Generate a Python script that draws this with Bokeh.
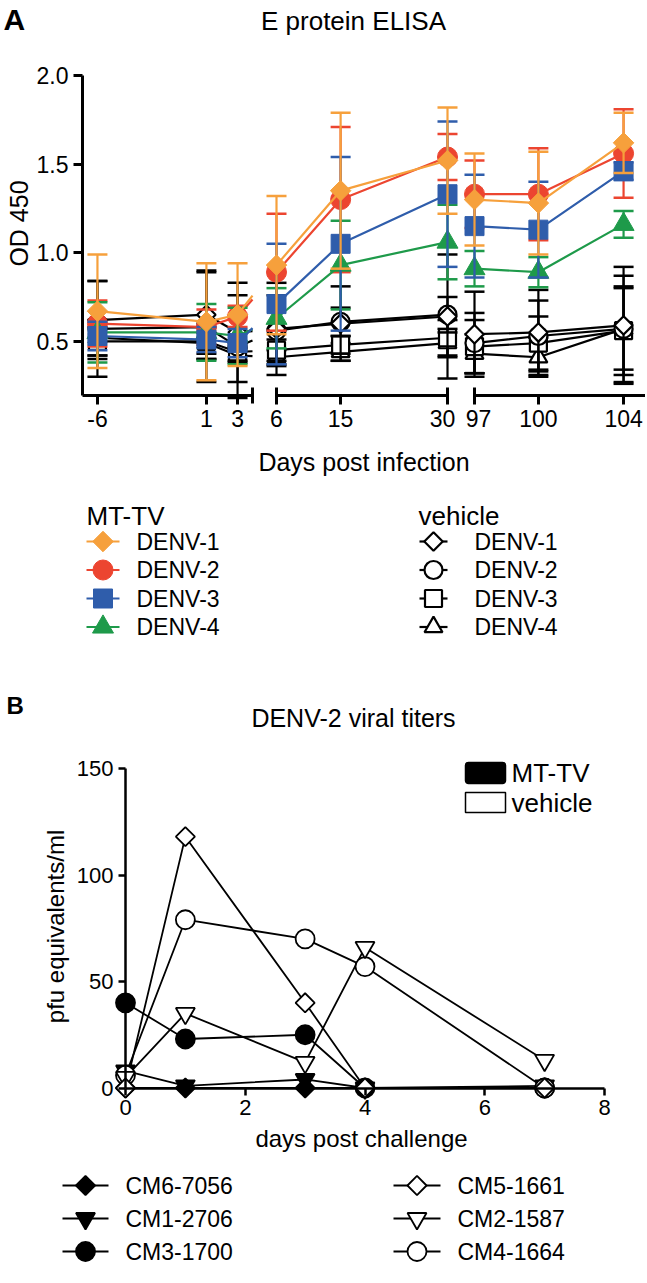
import math
from bokeh.plotting import figure
from bokeh.models import (Range1d, LinearAxis, FixedTicker, Label,
                          ColumnDataSource, NumeralTickFormatter)
from bokeh.embed import file_html
from bokeh.resources import INLINE

FONT = "Liberation Sans"

# ---------------- Panel A data (E protein ELISA, OD 450) ----------------
days_a = [-6, 1, 3, 6, 15, 30, 97, 100, 104]
serotypes = ["DENV-1", "DENV-2", "DENV-3", "DENV-4"]

mt_denv1 = [0.67, 0.61, 0.65, 0.93, 1.35, 1.52, 1.30, 1.28, 1.62]
mt_denv1_err = [0.32, 0.33, 0.29, 0.39, 0.44, 0.30, 0.26, 0.29, 0.17]
mt_denv2 = [0.60, 0.58, 0.64, 0.89, 1.30, 1.54, 1.33, 1.33, 1.56]
mt_denv2_err = [0.13, 0.10, 0.06, 0.33, 0.41, 0.13, 0.19, 0.26, 0.25]
mt_denv3 = [0.53, 0.51, 0.49, 0.71, 1.05, 1.33, 1.15, 1.13, 1.46]
mt_denv3_err = [0.08, 0.07, 0.08, 0.34, 0.49, 0.41, 0.29, 0.27, 0.05]
mt_denv4 = [0.55, 0.55, 0.53, 0.63, 0.93, 1.06, 0.91, 0.89, 1.16]
mt_denv4_err = [0.17, 0.16, 0.16, 0.17, 0.25, 0.21, 0.10, 0.085, 0.075]

veh_denv1 = [0.62, 0.65, 0.55, 0.57, 0.60, 0.64, 0.54, 0.55, 0.59]
veh_denv1_err = [0.22, 0.25, 0.28, 0.26, 0.21, 0.35, 0.24, 0.24, 0.33]
veh_denv2 = [0.57, 0.58, 0.47, 0.56, 0.61, 0.65, 0.49, 0.53, 0.57]
veh_denv2_err = [0.27, 0.31, 0.29, 0.20, 0.08, 0.10, 0.17, 0.20, 0.30]
veh_denv3 = [0.50, 0.50, 0.44, 0.45, 0.48, 0.52, 0.47, 0.49, 0.56]
veh_denv3_err = [0.08, 0.10, 0.05, 0.06, 0.05, 0.10, 0.15, 0.15, 0.25]
veh_denv4 = [0.52, 0.49, 0.42, 0.41, 0.44, 0.49, 0.43, 0.41, 0.57]
veh_denv4_err = [0.10, 0.06, 0.04, 0.04, 0.05, 0.08, 0.11, 0.11, 0.23]

a_yticks = [0.5, 1.0, 1.5, 2.0]

# ---------------- Panel B data (DENV-2 viral titers) ----------------
days_b = [0, 1, 3, 4, 7]
mice_mt = ["CM6-7056", "CM1-2706", "CM3-1700"]
mice_veh = ["CM5-1661", "CM2-1587", "CM4-1664"]
cm6_7056 = [0, 0, 0, 0, 0]
cm1_2706 = [8, 1, 4, 0, 1]
cm3_1700 = [40, 23, 25, 0, 0]
cm5_1661 = [0, 118, 40, 0, 0]
cm2_1587 = [5, 35, 12, 66, 13]
cm4_1664 = [6, 79, 70, 57, 0]
b_xticks = [0, 2, 4, 6, 8]
b_yticks = [0, 50, 100, 150]

# ---------------- styles / layout (page pixels) ----------------
ORANGE = "#F6A03C"
RED = "#EC4530"
BLUE = "#2F5DAB"
GREEN = "#1E9A4A"
PW, PH = 645, 1279

# panel A geometry
A_L, A_T, A_B = 82, 75, 395        # y axis x, y of OD 2.0, y of x axis
A_PX = 177.2                        # px per OD unit
A_Y1 = 2.0
A_Y0 = A_Y1 - (A_B - A_T) / A_PX
# broken x axis of panel A: (day_lo, day_hi, u_lo, u_hi); u = px right of the y axis
SEGS = [(-6.96, 3.96, 0.0, 170.0), (6.0, 30.0, 194.0, 365.0), (97.0, 105.03, 392.0, 563.0)]
# tick labels nudged apart where two breaks meet (day: px shift)
LABEL_NUDGE = {30: -5.0, 97: 4.0}

# panel B geometry
B_X0, B_XPX = 125, (604 - 125) / 8.0
B_Y0, B_YPX = 1087.5, (1087.5 - 768) / 150.0


def ay(py):
    return A_Y1 - (py - A_T) / A_PX


def bx(px):
    return (px - B_X0) / B_XPX


def by(py):
    return (B_Y0 - py) / B_YPX


def seg_index(d):
    for i, (a, b, _, _) in enumerate(SEGS):
        if a <= d <= b:
            return i
    raise ValueError(d)


def to_u(d):
    a, b, ua, ub = SEGS[seg_index(d)]
    return round(ua + (d - a) * (ub - ua) / (b - a), 3)


def line_pieces(days, vals):
    """Connect points; lines crossing an axis break are clipped at the segment edges."""
    xs, ys = [], []
    cx, cy = [to_u(days[0])], [vals[0]]
    for k in range(1, len(days)):
        s0, s1 = seg_index(days[k - 1]), seg_index(days[k])
        u0, u1 = to_u(days[k - 1]), to_u(days[k])
        v0, v1 = vals[k - 1], vals[k]
        if s0 == s1:
            cx.append(u1); cy.append(v1)
        else:
            ue = SEGS[s0][3]
            cx.append(ue); cy.append(v0 + (ue - u0) / (u1 - u0) * (v1 - v0))
            xs.append(cx); ys.append(cy)
            us = SEGS[s1][2]
            cx = [us, u1]; cy = [v0 + (us - u0) / (u1 - u0) * (v1 - v0), v1]
    xs.append(cx); ys.append(cy)
    return xs, ys


def style_axis(ax, size, lw, tick_out, standoff):
    ax.axis_line_width = lw
    ax.axis_line_color = "black"
    ax.major_tick_line_width = lw
    ax.major_tick_line_color = "black"
    ax.major_tick_out = tick_out
    ax.major_tick_in = 0
    ax.minor_tick_line_color = None
    ax.major_label_text_font = FONT
    ax.major_label_text_font_size = size
    ax.major_label_text_color = "black"
    ax.major_label_standoff = standoff


# one canvas; default ranges are page pixels, extra ranges hold each panel's data scales
p = figure(width=PW, height=PH, x_range=Range1d(0, PW), y_range=Range1d(PH, 0),
           x_axis_type=None, y_axis_type=None, output_backend="svg", toolbar_location=None,
           min_border=0)
p.outline_line_color = None
p.background_fill_color = "white"
p.border_fill_color = "white"
p.extra_x_ranges = {"ua": Range1d(-A_L, PW - A_L), "db": Range1d(bx(0), bx(PW))}
p.extra_y_ranges = {"oda": Range1d(ay(PH), ay(0)), "pfu": Range1d(by(PH), by(0))}
RA = dict(x_range_name="ua", y_range_name="oda")
RB = dict(x_range_name="db", y_range_name="pfu")


def text(x, y, s, size, align="left", bold=False, angle=0.0):
    p.add_layout(Label(x=x, y=y, text=s, text_font=FONT, text_font_size=size,
                       text_font_style="bold" if bold else "normal", text_color="black",
                       text_align=align, text_baseline="middle", angle=angle))


# ================= Panel A =================
yax = LinearAxis(ticker=FixedTicker(ticks=a_yticks), formatter=NumeralTickFormatter(format="0.0"),
                 fixed_location=0, bounds=(A_Y0, A_Y1), **RA)
style_axis(yax, "23px", 3, 9, 5)
p.add_layout(yax, "left")

for si, (a, b, ua, ub) in enumerate(SEGS):
    sd = [d for d in days_a if seg_index(d) == si]
    ax = LinearAxis(fixed_location=A_Y0, bounds=(ua, ub), ticker=FixedTicker(ticks=[to_u(d) for d in sd]),
                    major_label_overrides={to_u(d): ("" if d in LABEL_NUDGE else str(d)) for d in sd},
                    **RA)
    style_axis(ax, "23px", 3, 9, 5)
    p.add_layout(ax, "below")

# labels of the two ticks that sit on either side of a break, pushed slightly apart
nudged = [round(to_u(d) + s, 3) for d, s in LABEL_NUDGE.items()]
lab_ax = LinearAxis(fixed_location=A_Y0, ticker=FixedTicker(ticks=nudged),
                    major_label_overrides={n: str(d) for n, d in zip(nudged, LABEL_NUDGE)}, **RA)
style_axis(lab_ax, "23px", 3, 9, 5)
lab_ax.axis_line_alpha = 0
lab_ax.major_tick_line_alpha = 0
p.add_layout(lab_ax, "below")

caps = [SEGS[0][3], SEGS[1][2], SEGS[1][3], SEGS[2][2]]
cap_ax = LinearAxis(fixed_location=A_Y0, ticker=FixedTicker(ticks=caps),
                    major_label_overrides={c: "" for c in caps}, **RA)
style_axis(cap_ax, "23px", 3, 8, 4)
cap_ax.axis_line_alpha = 0
cap_ax.major_tick_in = 8
p.add_layout(cap_ax, "below")

A_SERIES = [
    (veh_denv4, veh_denv4_err, "black", "triangle", 18, 0.0, "white"),
    (veh_denv3, veh_denv3_err, "black", "square", 17, 0.0, "white"),
    (veh_denv2, veh_denv2_err, "black", "circle", 18, 0.0, "white"),
    (veh_denv1, veh_denv1_err, "black", "square", 13, math.pi / 4, "white"),
    (mt_denv2, mt_denv2_err, RED, "circle", 20, 0.0, RED),
    (mt_denv4, mt_denv4_err, GREEN, "triangle", 21, 0.0, GREEN),
    (mt_denv3, mt_denv3_err, BLUE, "square", 19, 0.0, BLUE),
    (mt_denv1, mt_denv1_err, ORANGE, "square", 14.5, math.pi / 4, ORANGE),
]

for vals, errs, col, mk, sz, ang, fill in A_SERIES:
    src = ColumnDataSource(dict(u=[to_u(d) for d in days_a], v=vals,
                                lo=[v - e for v, e in zip(vals, errs)],
                                hi=[v + e for v, e in zip(vals, errs)]))
    xs, ys = line_pieces(days_a, vals)
    p.multi_line(xs=xs, ys=ys, line_color=col, line_width=2.2, **RA)
    p.segment(x0="u", y0="lo", x1="u", y1="hi", source=src, line_color=col, line_width=2.2, **RA)
    p.scatter(x="u", y="hi", marker="dash", size=20, line_color=col, line_width=2.5, source=src, **RA)
    p.scatter(x="u", y="lo", marker="dash", size=20, line_color=col, line_width=2.5, source=src, **RA)
    p.scatter(x="u", y="v", marker=mk, size=sz, angle=ang, fill_color=fill, line_color=col,
              line_width=2.2 if fill == "white" else 1, source=src, **RA)

text(3, 19, "A", "30px", bold=True)
text(353, 20, "E protein ELISA", "26px", align="center")
text(18, 223, "OD 450", "25px", align="center", angle=math.pi / 2)
text(363.5, 461, "Days post infection", "25px", align="center")

# ---- panel A key ----
ROWS_A = [541, 569.5, 598, 626.5]
LEG_A = [
    ("MT-TV", 86, 86, 119, 136,
     [(ORANGE, "square", 14.5, math.pi / 4, ORANGE), (RED, "circle", 20, 0.0, RED),
      (BLUE, "square", 19, 0.0, BLUE), (GREEN, "triangle", 21, 0.0, GREEN)]),
    ("vehicle", 418, 419, 447, 474,
     [("black", "square", 13, math.pi / 4, "white"), ("black", "circle", 18, 0.0, "white"),
      ("black", "square", 17, 0.0, "white"), ("black", "triangle", 18, 0.0, "white")]),
]
for title, tx, lx0, lx1, txx, styles in LEG_A:
    text(tx, 515, title, "26px")
    for (col, mk, sz, ang, fill), lab, ry in zip(styles, serotypes, ROWS_A):
        p.segment(x0=[lx0], y0=[ry], x1=[lx1], y1=[ry], line_color=col, line_width=2.2)
        p.scatter(x=[(lx0 + lx1) / 2], y=[ry], marker=mk, size=sz, angle=ang,
                  fill_color=fill, line_color=col, line_width=2.2 if fill == "white" else 1)
        text(txx, ry, lab, "23px")

# ================= Panel B =================
bxax = LinearAxis(fixed_location=0, bounds=(0, 8), ticker=FixedTicker(ticks=b_xticks), **RB)
style_axis(bxax, "22px", 2.5, 7, 5)
p.add_layout(bxax, "below")
byax = LinearAxis(fixed_location=0, bounds=(0, 150), ticker=FixedTicker(ticks=b_yticks), **RB)
style_axis(byax, "22px", 2.5, 7, 5)
p.add_layout(byax, "left")

B_SERIES = [
    (cm6_7056, "square", 13.5, math.pi / 4, "black"),
    (cm1_2706, "inverted_triangle", 19, 0.0, "black"),
    (cm3_1700, "circle", 19, 0.0, "black"),
    (cm4_1664, "circle", 19, 0.0, "white"),
    (cm2_1587, "inverted_triangle", 19, 0.0, "white"),
    (cm5_1661, "square", 13.5, math.pi / 4, "white"),
]
for vals, *_ in B_SERIES:
    p.line(x=days_b, y=vals, line_color="black", line_width=1.8, **RB)
for vals, mk, sz, ang, fill in B_SERIES:
    p.scatter(x=days_b, y=vals, marker=mk, size=sz, angle=ang, fill_color=fill,
              line_color="black", line_width=1.8, **RB)

# inset key (MT-TV filled / vehicle open)
p.quad(left=[465], right=[505], top=[762], bottom=[783], fill_color="black",
       line_color="black", line_width=1.5, border_radius=3)
p.quad(left=[465], right=[505], top=[792], bottom=[812], fill_color="white",
       line_color="black", line_width=1.5)
text(511, 772.5, "MT-TV", "26px")
text(511, 802, "vehicle", "26px")

text(6, 705, "B", "24px", bold=True)
text(353, 717, "DENV-2 viral titers", "25px", align="center")
text(55, 926, "pfu equivalents/ml", "24px", align="center", angle=math.pi / 2)
text(361, 1138, "days post challenge", "24px", align="center")

# ---- panel B key ----
ROWS_B = [1185, 1218, 1251]
LEG_B = [
    (62, 108, 125, mice_mt, [("square", 13.5, math.pi / 4, "black"),
                             ("inverted_triangle", 19, 0.0, "black"),
                             ("circle", 19, 0.0, "black")]),
    (393, 440, 457, mice_veh, [("square", 13.5, math.pi / 4, "white"),
                               ("inverted_triangle", 19, 0.0, "white"),
                               ("circle", 19, 0.0, "white")]),
]
for lx0, lx1, txx, labels, styles in LEG_B:
    for (mk, sz, ang, fill), lab, ry in zip(styles, labels, ROWS_B):
        p.segment(x0=[lx0], y0=[ry], x1=[lx1], y1=[ry], line_color="black", line_width=1.8)
        p.scatter(x=[(lx0 + lx1) / 2], y=[ry], marker=mk, size=sz, angle=ang,
                  fill_color=fill, line_color="black", line_width=1.8)
        text(txx, ry, lab, "23px")

open("out.html", "w").write(file_html(p, INLINE))
